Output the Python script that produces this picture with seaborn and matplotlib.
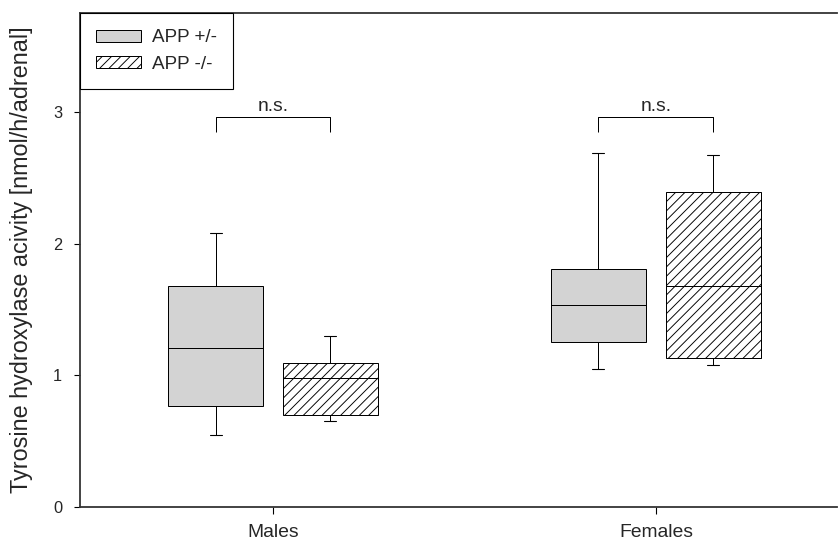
import numpy as np
import pandas as pd
import matplotlib
matplotlib.use("Agg")
import matplotlib.pyplot as plt
import seaborn as sns
from matplotlib.patches import Patch

# Groups and genotypes
sexes = ["Males", "Females"]
genotypes = ["APP +/-", "APP -/-"]

# Five-number summaries per group: lower whisker, Q1, median, Q3, upper whisker
males_het = [0.55, 0.77, 1.21, 1.68, 2.08]
males_ko = [0.65, 0.70, 0.98, 1.09, 1.30]
females_het = [1.05, 1.25, 1.53, 1.81, 2.69]
females_ko = [1.08, 1.13, 1.68, 2.39, 2.67]

yticks = [0, 1, 2, 3]
ns_label = "n.s."
ylabel = "Tyrosine hydroxylase acivity [nmol/h/adrenal]"

groups = [
    ("Males", "APP +/-", males_het),
    ("Males", "APP -/-", males_ko),
    ("Females", "APP +/-", females_het),
    ("Females", "APP -/-", females_ko),
]
df = pd.DataFrame(
    [(s, g, v) for s, g, vals in groups for v in vals],
    columns=["sex", "genotype", "value"],
)

sns.set_style("ticks")
plt.rcParams["font.family"] = ["Liberation Sans", "DejaVu Sans"]
plt.rcParams["hatch.linewidth"] = 0.8
plt.rcParams["hatch.color"] = "black"

DPI = 84
PX = 72 / DPI  # points per pixel
fig = plt.figure(figsize=(838 / DPI, 543 / DPI), dpi=DPI)
ax = fig.add_axes([80 / 838, 36 / 543, 757 / 838, 494 / 543])

palette = {"APP +/-": "#d3d3d3", "APP -/-": "white"}
sns.boxplot(
    data=df, x="sex", y="value", hue="genotype",
    order=sexes, hue_order=genotypes, palette=palette, saturation=1,
    width=0.6, gap=0.17, whis=(0, 100), fliersize=0,
    linecolor="black", linewidth=1.0 * PX, legend=False, ax=ax,
)

ax.set_xlim(-0.504, 1.473)
ax.set_ylim(0, 3.75)

# narrow whisker caps
cap_half = 6 / 383
for cont in ax.containers:
    for cap in getattr(cont, "caps", []):
        x = np.asarray(cap.get_xdata(), dtype=float)
        c = x.mean()
        cap.set_xdata([c - cap_half, c + cap_half])
        cap.set_linewidth(1.1 * PX)

# hatch the knockout boxes
for patch in ax.containers[1].boxes:
    patch.set_hatch("///")

# significance brackets
offset = 0.15
y_bar, y_leg = 2.957, 2.85
for i in range(len(sexes)):
    x0, x1 = i - offset, i + offset
    ax.plot([x0, x0, x1, x1], [y_leg, y_bar, y_bar, y_leg],
            color="black", lw=1.0 * PX, solid_capstyle="butt")
    ax.text(i, y_bar + 0.02, ns_label, ha="center", va="bottom",
            fontsize=16.5)

ax.set_yticks(yticks)
ax.set_xlabel("")
ax.set_ylabel(ylabel, fontsize=20, labelpad=17)
ax.tick_params(axis="y", direction="out", length=6 * PX, width=1.1 * PX,
               pad=12 * PX, labelsize=14, color="black")
ax.tick_params(axis="x", direction="out", length=7 * PX, width=1.1 * PX,
               pad=10 * PX, labelsize=16.5, color="black")

for side in ["left", "bottom", "top"]:
    ax.spines[side].set_color("#333333")
    ax.spines[side].set_linewidth(1.8 * PX)
ax.spines["right"].set_visible(False)

handles = [
    Patch(facecolor="#d3d3d3", edgecolor="black", linewidth=1.0 * PX),
    Patch(facecolor="white", edgecolor="black", linewidth=1.0 * PX, hatch="///"),
]
leg = ax.legend(
    handles, genotypes, loc="upper left", bbox_to_anchor=(0, 1),
    borderaxespad=0, frameon=True, fancybox=False, fontsize=16.2,
    handlelength=2.36, handleheight=0.59, handletextpad=0.59,
    labelspacing=0.5, borderpad=0.86,
)
leg.get_frame().set_edgecolor("black")
leg.get_frame().set_linewidth(1.1 * PX)
leg.get_frame().set_alpha(1)

fig.savefig("out.png", dpi=DPI)
